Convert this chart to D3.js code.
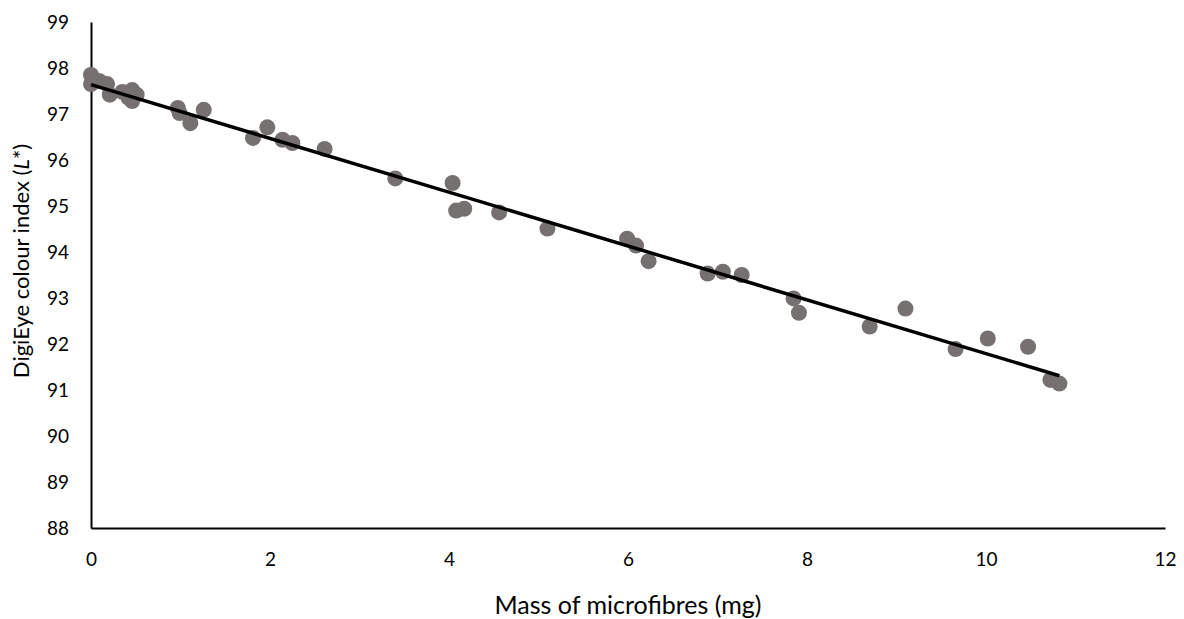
<!DOCTYPE html>
<html>
<head>
<meta charset="utf-8">
<script src="https://cdn.jsdelivr.net/npm/d3@7"></script>
<style>
  body { margin: 0; background: #fff; }
  .axis text { font-family: Lato, "Open Sans", sans-serif; font-size: 19px; fill: #000; }
  .axis-title { font-family: Lato, "Open Sans", sans-serif; font-size: 22px; fill: #000; }
</style>
</head>
<body>
<div class="chart"></div>
<script>
// DATA ------------------------------
let massMg = [0, 0, 0.09, 0.18, 0.21, 0.35, 0.42, 0.46, 0.46, 0.51,
  0.97, 0.99, 1.11, 1.26, 1.81, 1.97, 2.14, 2.25, 2.61, 3.40,
  4.04, 4.08, 4.17, 4.56, 5.10, 5.99, 6.09, 6.23, 6.89, 7.06,
  7.27, 7.85, 7.91, 8.70, 9.10, 9.66, 10.02, 10.47, 10.72, 10.82];
let lightness = [97.85, 97.65, 97.72, 97.65, 97.42, 97.48, 97.35, 97.52, 97.28, 97.42,
  97.13, 97.02, 96.80, 97.09, 96.48, 96.71, 96.44, 96.37, 96.24, 95.60,
  95.50, 94.90, 94.94, 94.86, 94.51, 94.29, 94.14, 93.80, 93.53, 93.57,
  93.50, 92.99, 92.68, 92.38, 92.77, 91.89, 92.12, 91.94, 91.22, 91.14];

// linear trendline
let trendIntercept = 97.64;
let trendSlope = -0.585;
let trendRange = [0, 10.82];

let xTicks = [0, 2, 4, 6, 8, 10, 12];
let yTicks = [88, 89, 90, 91, 92, 93, 94, 95, 96, 97, 98, 99];

// CHART INIT ------------------------------
let margin = { top: 22, right: 19, bottom: 91, left: 91 },
  width = 1184 - margin.left - margin.right,
  height = 619 - margin.top - margin.bottom;

let svg = d3
  .select(".chart")
  .append("svg")
  .attr("width", width + margin.left + margin.right)
  .attr("height", height + margin.top + margin.bottom)
  .append("g")
  .attr("transform", "translate(" + margin.left + "," + margin.top + ")");

let x = d3.scaleLinear().domain([0, 12]).range([0, width]);
let y = d3.scaleLinear().domain([88, 99]).range([height, 0]);

let xAxis = d3.axisBottom(x).tickValues(xTicks).tickSize(0).tickPadding(25);
let yAxis = d3.axisLeft(y).tickValues(yTicks).tickSize(0).tickPadding(22);

let xAxisGroup = svg
  .append("g")
  .attr("class", "x-axis axis")
  .attr("transform", "translate(0," + height + ")")
  .call(xAxis);

let yAxisGroup = svg.append("g").attr("class", "y-axis axis").call(yAxis);

svg.selectAll(".axis .domain").attr("stroke", "#000").attr("stroke-width", 2);
yAxisGroup.selectAll("text").attr("dy", "0.36em");

// points
let data = massMg.map(function(d, i) {
  return { mass: d, L: lightness[i] };
});

svg
  .selectAll(".dot")
  .data(data)
  .enter()
  .append("circle")
  .attr("class", "dot")
  .attr("cx", d => x(d.mass))
  .attr("cy", d => y(d.L))
  .attr("r", 8)
  .attr("fill", "#767171");

// trendline
let line = d3
  .line()
  .x(d => x(d))
  .y(d => y(trendIntercept + trendSlope * d));

svg
  .append("path")
  .datum(trendRange)
  .attr("d", line)
  .attr("fill", "none")
  .attr("stroke", "#000")
  .attr("stroke-width", 3.5);

// axis titles
svg
  .append("text")
  .attr("class", "axis-title")
  .style("font-size", "25px")
  .attr("x", width / 2)
  .attr("y", height + 86)
  .style("text-anchor", "middle")
  .text("Mass of microfibres (mg)");

let yTitle = svg
  .append("text")
  .attr("class", "axis-title")
  .attr("transform", "translate(" + (-62) + "," + (height / 2 - 14) + ") rotate(-90)")
  .style("text-anchor", "middle");
yTitle.append("tspan").text("DigiEye colour index (");
yTitle.append("tspan").style("font-style", "italic").text("L");
yTitle.append("tspan").text("*)");
</script>
</body>
</html>
